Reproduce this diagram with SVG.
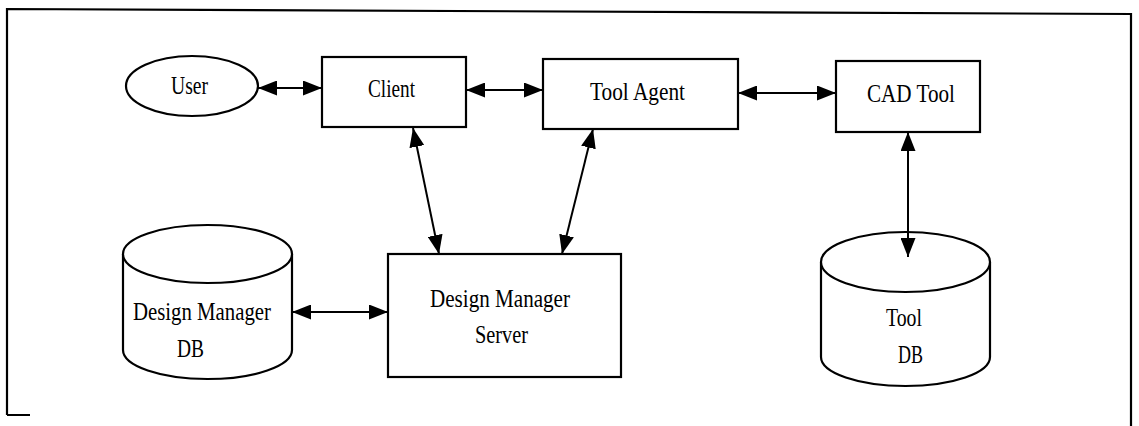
<svg xmlns="http://www.w3.org/2000/svg" width="1139" height="426" viewBox="0 0 1139 426">
<defs>
<marker id="ah" markerUnits="userSpaceOnUse" markerWidth="19" markerHeight="15" refX="19" refY="7.5" orient="auto-start-reverse">
<path d="M0,0 L19,7.5 L0,15 Z" fill="#000"/>
</marker>
<style>
.shape{fill:#fff;stroke:#000;stroke-width:2.2}
.frame{fill:none;stroke:#000;stroke-width:2.2}
.conn{stroke:#000;stroke-width:2;fill:none;marker-start:url(#ah);marker-end:url(#ah)}
text{font-family:"Liberation Serif","Times New Roman",serif;font-size:25px;fill:#000}
</style>
</defs>
<rect width="1139" height="426" fill="#fff"/>
<path class="frame" d="M7,415 L7,9 L1131,14 L1131,426 M7,415 L30,415"/>

<g id="user">
<ellipse class="shape" cx="192" cy="86" rx="66" ry="30"/>
<text x="171" y="94" textLength="37" lengthAdjust="spacingAndGlyphs">User</text>
</g>
<g id="client">
<rect class="shape" x="322" y="57" width="144" height="70"/>
<text x="368" y="97" textLength="47" lengthAdjust="spacingAndGlyphs">Client</text>
</g>
<g id="tool-agent">
<rect class="shape" x="543" y="59" width="195" height="70"/>
<text x="590" y="100" textLength="95" lengthAdjust="spacingAndGlyphs">Tool  Agent</text>
</g>
<g id="cad-tool">
<rect class="shape" x="836" y="61" width="144" height="71"/>
<text x="867" y="102" textLength="88" lengthAdjust="spacingAndGlyphs">CAD  Tool</text>
</g>
<g id="dm-server">
<rect class="shape" x="388" y="254" width="233" height="123"/>
<text x="430" y="307" textLength="140" lengthAdjust="spacingAndGlyphs">Design  Manager</text>
<text x="475" y="343" textLength="53" lengthAdjust="spacingAndGlyphs">Server</text>
</g>
<g id="dm-db">
<path class="shape" d="M123,254 L123,350 A84.5,29 0 0 0 292,350 L292,254"/>
<ellipse class="shape" cx="207.5" cy="254" rx="84.5" ry="29"/>
<text x="133" y="320" textLength="138" lengthAdjust="spacingAndGlyphs">Design  Manager</text>
<text x="177" y="357" textLength="27" lengthAdjust="spacingAndGlyphs">DB</text>
</g>
<g id="tool-db">
<path class="shape" d="M821,262 L821,357 A84.5,29 0 0 0 990,357 L990,262"/>
<ellipse class="shape" cx="905.5" cy="262" rx="84.5" ry="30"/>
<text x="886" y="326" textLength="36" lengthAdjust="spacingAndGlyphs">Tool</text>
<text x="898" y="363" textLength="25" lengthAdjust="spacingAndGlyphs">DB</text>
</g>

<g id="connectors">
<line class="conn" x1="258" y1="88" x2="322" y2="88"/>
<line class="conn" x1="466" y1="90" x2="543" y2="90"/>
<line class="conn" x1="738" y1="93" x2="836" y2="93"/>
<line class="conn" x1="413" y1="128" x2="439" y2="254"/>
<line class="conn" x1="593" y1="129" x2="562" y2="254"/>
<line class="conn" x1="908" y1="132" x2="908" y2="257"/>
<line class="conn" x1="292" y1="312" x2="388" y2="312"/>
</g>
</svg>
